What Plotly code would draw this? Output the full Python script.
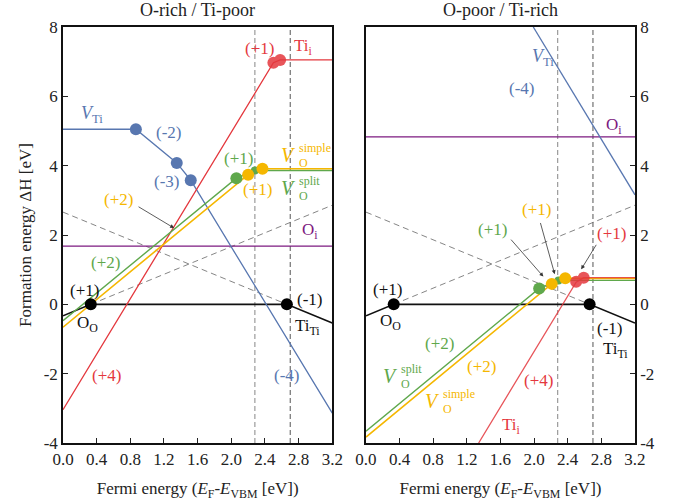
import plotly.graph_objects as go

# ---------------- data ----------------
x_ticks = [0.0, 0.4, 0.8, 1.2, 1.6, 2.0, 2.4, 2.8, 3.2]
x_ticklabels = ["0.0", "0.4", "0.8", "1.2", "1.6", "2.0", "2.4", "2.8", "3.2"]
y_ticks = [-4, -2, 0, 2, 4, 6, 8]
y_ticklabels = ["-4", "-2", "0", "2", "4", "6", "8"]
gap_lines = [2.28, 2.70]

# host (O_O / Ti_Ti) — same in both panels
host_x = [0.0, 0.33, 2.66, 3.2]
host_y = [-0.33, 0.0, 0.0, -0.54]
host_dots_x = [0.33, 2.66]
host_dots_y = [0.0, 0.0]
dash_down_x = [0.0, 2.66]
dash_down_y = [2.66, 0.0]
dash_up_x = [0.33, 3.2]
dash_up_y = [0.0, 2.86]

# O-rich / Ti-poor
rich_tii_x = [0.0, 2.50, 2.58, 3.2]
rich_tii_y = [-3.04, 6.97, 7.05, 7.05]
rich_tii_dots_x = [2.50, 2.58]
rich_tii_dots_y = [6.97, 7.05]
rich_vti_x = [0.0, 0.866, 1.352, 1.518, 3.2]
rich_vti_y = [5.05, 5.05, 4.08, 3.58, -3.14]
rich_vti_dots_x = [0.866, 1.352, 1.518]
rich_vti_dots_y = [5.05, 4.08, 3.58]
rich_oi_x = [0.0, 3.2]
rich_oi_y = [1.68, 1.68]
rich_vos_x = [0.0, 2.06, 2.28, 3.2]
rich_vos_y = [-0.47, 3.64, 3.86, 3.86]
rich_vos_dots_x = [2.06]
rich_vos_dots_y = [3.64]
rich_vos_small_x = [2.28]
rich_vos_small_y = [3.86]
rich_vosim_x = [0.0, 2.20, 2.37, 3.2]
rich_vosim_y = [-0.66, 3.74, 3.91, 3.91]
rich_vosim_dots_x = [2.20, 2.37]
rich_vosim_dots_y = [3.74, 3.91]

# O-poor / Ti-rich
poor_vti_x = [1.99, 3.2]
poor_vti_y = [8.0, 3.16]
poor_oi_x = [0.0, 3.2]
poor_oi_y = [4.83, 4.83]
poor_vos_x = [0.0, 2.06, 2.29, 3.2]
poor_vos_y = [-3.66, 0.46, 0.69, 0.69]
poor_vos_dots_x = [2.06]
poor_vos_dots_y = [0.46]
poor_vos_small_x = [2.29]
poor_vos_small_y = [0.69]
poor_vosim_x = [0.0, 2.21, 2.37, 3.2]
poor_vosim_y = [-3.83, 0.59, 0.75, 0.75]
poor_vosim_dots_x = [2.21, 2.37]
poor_vosim_dots_y = [0.59, 0.75]
poor_tii_x = [1.34, 2.50, 2.59, 3.2]
poor_tii_y = [-4.0, 0.64, 0.77, 0.77]
poor_tii_dots_x = [2.50, 2.59]
poor_tii_dots_y = [0.65, 0.77]

# ---------------- styles ----------------
FONT = "Liberation Serif"
RED = "#e4383e"
GREEN = "#5fa84c"
YELLOW = "#f5b700"
BLUE = "#5877b0"
PURPLE = "#7d1a80"
BLACK = "#111111"

fig = go.Figure()


def line(x, y, color, xa, ya, width=1.3, dash="solid", opacity=1.0):
    fig.add_trace(go.Scatter(x=x, y=y, mode="lines", xaxis=xa, yaxis=ya,
                             line=dict(color=color, width=width, dash=dash),
                             opacity=opacity, showlegend=False, hoverinfo="skip"))


def dots(x, y, color, xa, ya, size=12, opacity=1.0):
    fig.add_trace(go.Scatter(x=x, y=y, mode="markers", xaxis=xa, yaxis=ya,
                             marker=dict(color=color, size=size, line=dict(width=0)),
                             opacity=opacity, showlegend=False, hoverinfo="skip"))


for xa, ya in (("x", "y"), ("x2", "y2")):
    line([gap_lines[0]] * 2, [-4, 8], "#9a9a9a", xa, ya, width=1.2, dash="5px,3px")
    line([gap_lines[1]] * 2, [-4, 8], "#555555", xa, ya, width=1.0, dash="5px,3px")
    line(dash_down_x, dash_down_y, "#666666", xa, ya, width=0.8, dash="6px,4px")
    line(dash_up_x, dash_up_y, "#666666", xa, ya, width=0.8, dash="6px,4px")
    line(host_x, host_y, BLACK, xa, ya, width=1.6)

# left panel
line(rich_oi_x, rich_oi_y, PURPLE, "x", "y", width=1.4)
line(rich_vti_x, rich_vti_y, BLUE, "x", "y", width=1.3)
line(rich_tii_x, rich_tii_y, RED, "x", "y", width=1.3)
line(rich_vos_x, rich_vos_y, GREEN, "x", "y", width=1.4)
line(rich_vosim_x, rich_vosim_y, YELLOW, "x", "y", width=1.6)
dots(rich_vti_dots_x, rich_vti_dots_y, BLUE, "x", "y")
dots(rich_tii_dots_x, rich_tii_dots_y, RED, "x", "y", opacity=0.85)
dots(rich_vos_dots_x, rich_vos_dots_y, GREEN, "x", "y")
dots(rich_vos_small_x, rich_vos_small_y, GREEN, "x", "y", size=8)
dots(rich_vosim_dots_x, rich_vosim_dots_y, YELLOW, "x", "y")

# right panel
line(poor_oi_x, poor_oi_y, PURPLE, "x2", "y2", width=1.4)
line(poor_vti_x, poor_vti_y, BLUE, "x2", "y2", width=1.3)
line(poor_vos_x, poor_vos_y, GREEN, "x2", "y2", width=1.4)
line(poor_vosim_x, poor_vosim_y, YELLOW, "x2", "y2", width=1.6)
line(poor_tii_x, poor_tii_y, RED, "x2", "y2", width=1.3, opacity=0.85)
dots(poor_vos_dots_x, poor_vos_dots_y, GREEN, "x2", "y2")
dots(poor_vos_small_x, poor_vos_small_y, GREEN, "x2", "y2", size=8)
dots(poor_vosim_dots_x, poor_vosim_dots_y, YELLOW, "x2", "y2")
dots(poor_tii_dots_x, poor_tii_dots_y, RED, "x2", "y2", opacity=0.85)

for xa, ya in (("x", "y"), ("x2", "y2")):
    dots(host_dots_x, host_dots_y, "#000000", xa, ya, size=12)

ann = []


def label(text, x, y, color, xr="x", yr="y", size=17, xanchor="center", xshift=0, yshift=0):
    ann.append(dict(text=text, x=x, y=y, xref=xr, yref=yr, showarrow=False,
                    font=dict(family=FONT, size=size, color=color),
                    xanchor=xanchor, yanchor="middle", xshift=xshift, yshift=yshift))


def vlabel(sup, sub, x, y, color, xr="x", yr="y"):
    label("<i>V</i>", x, y, color, xr, yr, size=20, xanchor="right")
    label(sup, x, y, color, xr, yr, size=12, xanchor="left", xshift=-1, yshift=7)
    label(sub, x, y, color, xr, yr, size=12, xanchor="left", xshift=-1, yshift=-8)


def arrow(x, y, ax, ay, xr="x", yr="y"):
    ann.append(dict(text="", x=x, y=y, ax=ax, ay=ay, xref=xr, yref=yr,
                    axref=xr, ayref=yr, showarrow=True, arrowhead=2,
                    arrowsize=1, arrowwidth=0.8, arrowcolor="#333333"))


# left panel labels
label("(+1)", 2.34, 7.38, RED)
label("Ti<sub>i</sub>", 2.86, 7.43, RED)
label("<i>V</i><sub>Ti</sub>", 0.34, 5.47, BLUE, size=18)
label("(-2)", 1.25, 4.95, BLUE)
label("(-3)", 1.23, 3.54, BLUE)
label("(-4)", 2.66, -2.06, BLUE)
label("(+1)", 2.08, 4.21, GREEN)
label("(+1)", 2.31, 3.30, YELLOW)
vlabel("simple", "O", 2.79, 4.31, YELLOW)
vlabel("split", "O", 2.79, 3.35, GREEN)
label("(+2)", 0.66, 3.03, YELLOW)
arrow(1.32, 2.20, 0.88, 2.84)
label("O<sub>i</sub>", 2.93, 2.12, PURPLE)
label("(+2)", 0.51, 1.20, GREEN)
label("(+1)", 0.26, 0.40, BLACK)
label("O<sub>O</sub>", 0.29, -0.58, BLACK)
label("(-1)", 2.93, 0.15, BLACK)
label("Ti<sub>Ti</sub>", 2.90, -0.64, BLACK)
label("(+4)", 0.52, -2.06, RED)

# right panel labels
label("<i>V</i><sub>Ti</sub>", 2.10, 7.12, BLUE, "x2", "y2", size=18)
label("(-4)", 1.85, 6.22, BLUE, "x2", "y2")
label("O<sub>i</sub>", 2.95, 5.15, PURPLE, "x2", "y2")
label("(+1)", 1.50, 2.17, GREEN, "x2", "y2")
arrow(2.11, 0.80, 1.71, 1.91, "x2", "y2")
label("(+1)", 2.03, 2.74, YELLOW, "x2", "y2")
arrow(2.245, 0.87, 2.07, 2.39, "x2", "y2")
label("(+1)", 2.92, 2.05, RED, "x2", "y2")
arrow(2.56, 1.01, 2.75, 1.76, "x2", "y2")
label("(+1)", 0.26, 0.44, BLACK, "x2", "y2")
label("O<sub>O</sub>", 0.29, -0.50, BLACK, "x2", "y2")
label("(-1)", 2.90, -0.71, BLACK, "x2", "y2")
label("Ti<sub>Ti</sub>", 2.97, -1.31, BLACK, "x2", "y2")
label("(+2)", 0.88, -1.14, GREEN, "x2", "y2")
vlabel("split", "O", 0.41, -2.08, GREEN, "x2", "y2")
label("(+2)", 1.37, -1.79, YELLOW, "x2", "y2")
vlabel("simple", "O", 0.91, -2.80, YELLOW, "x2", "y2")
label("(+4)", 2.05, -2.20, RED, "x2", "y2")
label("Ti<sub>i</sub>", 1.73, -3.50, RED, "x2", "y2")

# titles
ann.append(dict(text="O-rich / Ti-poor", x=0.2354, y=1.0, xref="paper", yref="paper",
                xanchor="center", yanchor="bottom", yshift=5, showarrow=False,
                font=dict(family=FONT, size=18, color="#222222")))
ann.append(dict(text="O-poor / Ti-rich", x=0.7646, y=1.0, xref="paper", yref="paper",
                xanchor="center", yanchor="bottom", yshift=5, showarrow=False,
                font=dict(family=FONT, size=18, color="#222222")))

xaxis_common = dict(range=[0, 3.2], tickvals=x_ticks, ticktext=x_ticklabels,
                    ticks="inside", ticklen=5, tickcolor="#222222",
                    showline=True, mirror=True, linecolor="#111111", linewidth=1.6,
                    showgrid=False, zeroline=False,
                    tickfont=dict(family=FONT, size=17, color="#222222"),
                    title=dict(text="Fermi energy (<i>E</i><sub>F</sub>-<i>E</i><sub>VBM</sub> [eV])",
                               font=dict(family=FONT, size=17, color="#222222"), standoff=14),
                    automargin=False)
yaxis_common = dict(range=[-4, 8], tickvals=y_ticks, ticktext=y_ticklabels,
                    ticks="inside", ticklen=5, tickcolor="#222222",
                    showline=True, mirror=True, linecolor="#111111", linewidth=1.6,
                    showgrid=False, zeroline=False,
                    tickfont=dict(family=FONT, size=17, color="#222222"),
                    automargin=False)

fig.update_layout(
    width=674, height=502,
    margin=dict(l=62.7, r=38.7, t=26.7, b=58.7),
    paper_bgcolor="white", plot_bgcolor="white",
    xaxis=dict(domain=[0, 0.4708], anchor="y", **xaxis_common),
    xaxis2=dict(domain=[0.5297, 1], anchor="y2", **xaxis_common),
    yaxis=dict(domain=[0, 1], anchor="x", side="left",
               title=dict(text="Formation energy \u0394H [eV]",
                          font=dict(family=FONT, size=17, color="#222222"), standoff=8),
               **yaxis_common),
    yaxis2=dict(domain=[0, 1], anchor="x2", side="right", **yaxis_common),
    annotations=ann,
    font=dict(family=FONT),
)

fig.write_html("out.html", config={"displayModeBar": False},
               post_script="document.body.style.margin='0';document.body.style.padding='0';")
